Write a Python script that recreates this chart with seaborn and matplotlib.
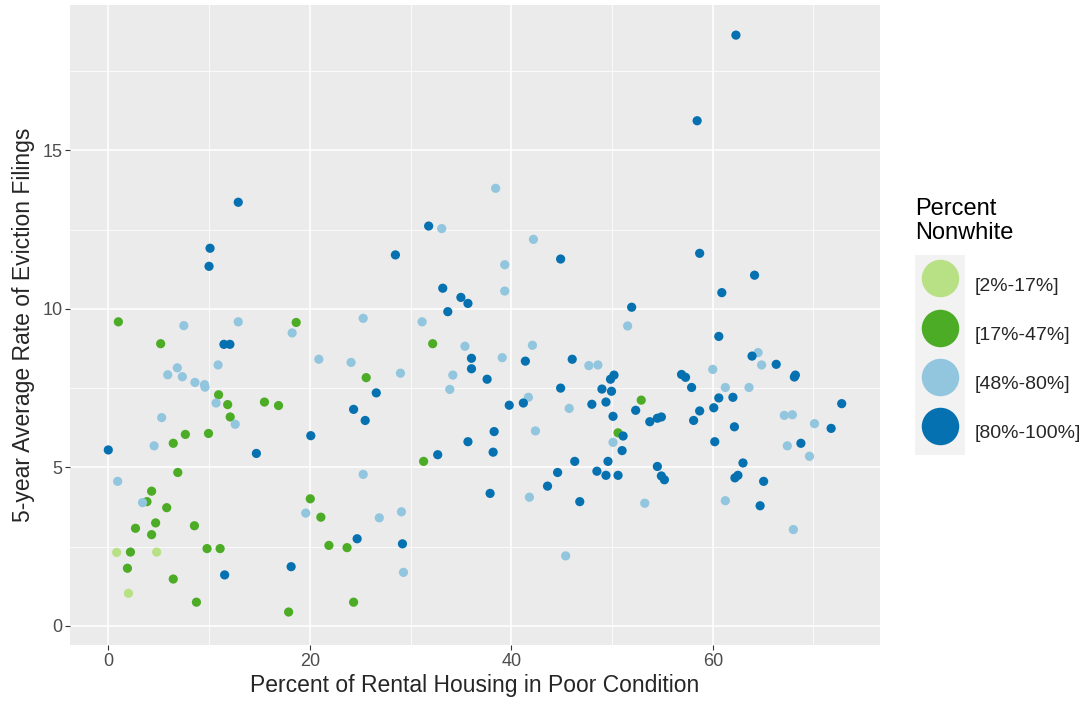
import pandas as pd
import matplotlib.pyplot as plt
import seaborn as sns
from matplotlib.lines import Line2D
from matplotlib.patches import Rectangle
from matplotlib.ticker import MultipleLocator

# Group labels and colours
groups = ["[2%-17%]", "[17%-47%]", "[48%-80%]", "[80%-100%]"]
colors = ["#b8e186", "#4dac26", "#92c5de", "#0571b0"]

# [2%-17%]
lg_x = [0.83, 4.8, 2.0]
lg_y = [2.32, 2.33, 1.03]

# [17%-47%]
g_x = [1.0, 18.65, 5.2, 10.95, 11.85, 15.5, 16.9, 12.1, 7.65, 9.95, 6.45, 6.9,
       4.3, 3.84, 5.8, 20.05, 21.1, 4.7, 2.7, 8.55, 4.3, 21.9, 23.7, 9.8, 11.1,
       2.2, 1.9, 6.45, 8.75, 17.9, 32.2, 25.6, 31.3, 24.35, 50.6, 52.9]
g_y = [9.59, 9.57, 8.9, 7.29, 6.98, 7.06, 6.95, 6.59, 6.04, 6.07, 5.76, 4.84,
       4.25, 3.92, 3.73, 4.01, 3.43, 3.25, 3.08, 3.16, 2.88, 2.54, 2.47, 2.44, 2.44,
       2.33, 1.82, 1.48, 0.75, 0.44, 8.90, 7.83, 5.19, 0.75, 6.09, 7.12]

# [48%-80%]
lb_x = [7.5, 12.9, 18.25, 20.9, 24.1, 10.9, 6.85, 5.9, 7.35, 8.6, 9.55, 9.6,
        10.7, 12.6, 5.3, 4.55, 0.93, 3.4, 19.6, 38.45, 33.1, 42.2, 39.35, 39.35,
        25.3, 31.15, 35.4, 42.1, 39.1, 47.7, 48.6, 29.0, 34.2, 33.9, 41.7, 45.75,
        50.1, 42.4, 25.3, 41.8, 29.1, 26.9, 45.4, 29.3, 51.55, 64.5, 64.85, 60.0,
        61.25, 63.6, 67.1, 67.9, 70.1, 67.4, 69.6, 53.25, 61.25, 68.0]
lb_y = [9.47, 9.59, 9.24, 8.41, 8.31, 8.23, 8.14, 7.92, 7.86, 7.68, 7.61, 7.53,
        7.03, 6.36, 6.57, 5.68, 4.56, 3.89, 3.56, 13.8, 12.53, 12.19, 11.39, 10.56,
        9.70, 9.59, 8.82, 8.85, 8.46, 8.21, 8.23, 7.97, 7.91, 7.46, 7.21, 6.86,
        5.79, 6.15, 4.78, 4.06, 3.60, 3.41, 2.21, 1.69, 9.46, 8.62, 8.23, 8.09,
        7.52, 7.52, 6.64, 6.66, 6.38, 5.68, 5.35, 3.87, 3.95, 3.04]

# [80%-100%]
db_x = [12.9, 10.1, 10.0, 11.48, 12.07, 0.0, 14.7, 20.1, 18.15, 11.55, 31.8,
        28.5, 44.9, 33.2, 35.0, 35.7, 33.7, 36.05, 41.4, 46.05, 36.05, 37.6, 26.6,
        24.35, 25.5, 39.8, 41.2, 44.9, 48.0, 49.0, 49.95, 49.85, 50.2, 49.4, 50.1,
        38.3, 35.7, 38.2, 32.7, 46.3, 49.6, 44.6, 48.5, 49.4, 50.6, 43.6, 37.9,
        46.8, 24.7, 29.2, 62.3, 58.45, 58.7, 64.15, 60.9, 51.95, 60.6, 63.9, 66.3,
        68.2, 68.1, 56.9, 57.3, 57.9, 60.6, 62.0, 72.8, 52.35, 53.75, 54.5, 54.9,
        58.7, 58.1, 60.1, 62.15, 71.75, 68.75, 60.2, 51.0, 51.1, 54.5, 54.9, 55.2,
        63.0, 62.5, 62.2, 65.05, 64.7]
db_y = [13.36, 11.91, 11.34, 8.88, 8.88, 5.55, 5.44, 6.0, 1.87, 1.61, 12.61,
        11.70, 11.57, 10.65, 10.36, 10.17, 9.91, 8.44, 8.35, 8.41, 8.11, 7.78, 7.35,
        6.83, 6.48, 6.96, 7.03, 7.50, 6.99, 7.47, 7.40, 7.78, 7.91, 7.06, 6.61,
        6.13, 5.81, 5.48, 5.40, 5.19, 5.19, 4.84, 4.88, 4.75, 4.75, 4.41, 4.18,
        3.92, 2.75, 2.59, 18.63, 15.93, 11.75, 11.06, 10.51, 10.05, 9.13, 8.51, 8.25,
        7.91, 7.85, 7.93, 7.84, 7.52, 7.19, 7.21, 7.01, 6.80, 6.44, 6.55, 6.59,
        6.78, 6.48, 6.88, 6.28, 6.23, 5.76, 5.81, 5.53, 5.99, 5.03, 4.73, 4.61,
        5.14, 4.75, 4.67, 4.56, 3.79]


def main():
    frames = []
    for name, xs, ys in zip(groups, [lg_x, g_x, lb_x, db_x], [lg_y, g_y, lb_y, db_y]):
        frames.append(pd.DataFrame({"poor": xs, "evict": ys, "group": name}))
    df = pd.concat(frames, ignore_index=True)

    sns.set_theme(style="darkgrid")
    plt.rcParams["font.family"] = ["Liberation Sans", "DejaVu Sans"]

    fig = plt.figure(figsize=(10.82, 7.03), dpi=100)
    ax = fig.add_axes([0.0647, 0.0825, 0.7486, 0.9104])
    ax.set_facecolor("#ebebeb")

    palette = dict(zip(groups, colors))
    sns.scatterplot(data=df, x="poor", y="evict", hue="group", hue_order=groups,
                    palette=palette, s=44, linewidth=0, legend=False, ax=ax)

    ax.set_xlim(-3.8, 76.6)
    ax.set_ylim(-0.6, 19.58)
    ax.xaxis.set_major_locator(MultipleLocator(20))
    ax.xaxis.set_minor_locator(MultipleLocator(10))
    ax.yaxis.set_major_locator(MultipleLocator(5))
    ax.yaxis.set_minor_locator(MultipleLocator(2.5))
    ax.grid(which="major", color="white", linewidth=1.1)
    ax.grid(which="minor", color="white", linewidth=0.55)
    ax.set_axisbelow(True)
    for s in ax.spines.values():
        s.set_visible(False)
    ax.tick_params(which="major", length=3.5, width=0.8, color="#333333",
                   labelsize=13, labelcolor="#4d4d4d", pad=2,
                   bottom=True, left=True)
    ax.tick_params(which="minor", length=0)

    ax.set_xlabel("Percent of Rental Housing in Poor Condition", fontsize=16.5, labelpad=3)
    ax.set_ylabel("5-year Average Rate of Eviction Filings", fontsize=16.5, labelpad=5)

    # legend: title as text, grey key background, big circle keys
    fig.text(915 / 1082, 1 - 198 / 703, "Percent\nNonwhite", fontsize=17,
             ha="left", va="top", color="black", linespacing=1.12)
    fig.patches.append(Rectangle((915 / 1082, 1 - 455 / 703), 50 / 1082, 200 / 703,
                                 transform=fig.transFigure, facecolor="#f2f2f2",
                                 edgecolor="none", zorder=0))
    handles = [Line2D([0], [0], marker="o", linestyle="", markersize=27,
                      markerfacecolor=c, markeredgewidth=0) for c in colors]
    fig.legend(handles, groups, loc="upper left",
               bbox_to_anchor=(915 / 1082, 1 - 266 / 703),
               frameon=False, fontsize=14,
               labelspacing=0.62, handlelength=2.57, handleheight=2.57,
               handletextpad=0.5, borderpad=0.0, borderaxespad=0.0)

    fig.savefig("out.png", dpi=100)


if __name__ == "__main__":
    main()
